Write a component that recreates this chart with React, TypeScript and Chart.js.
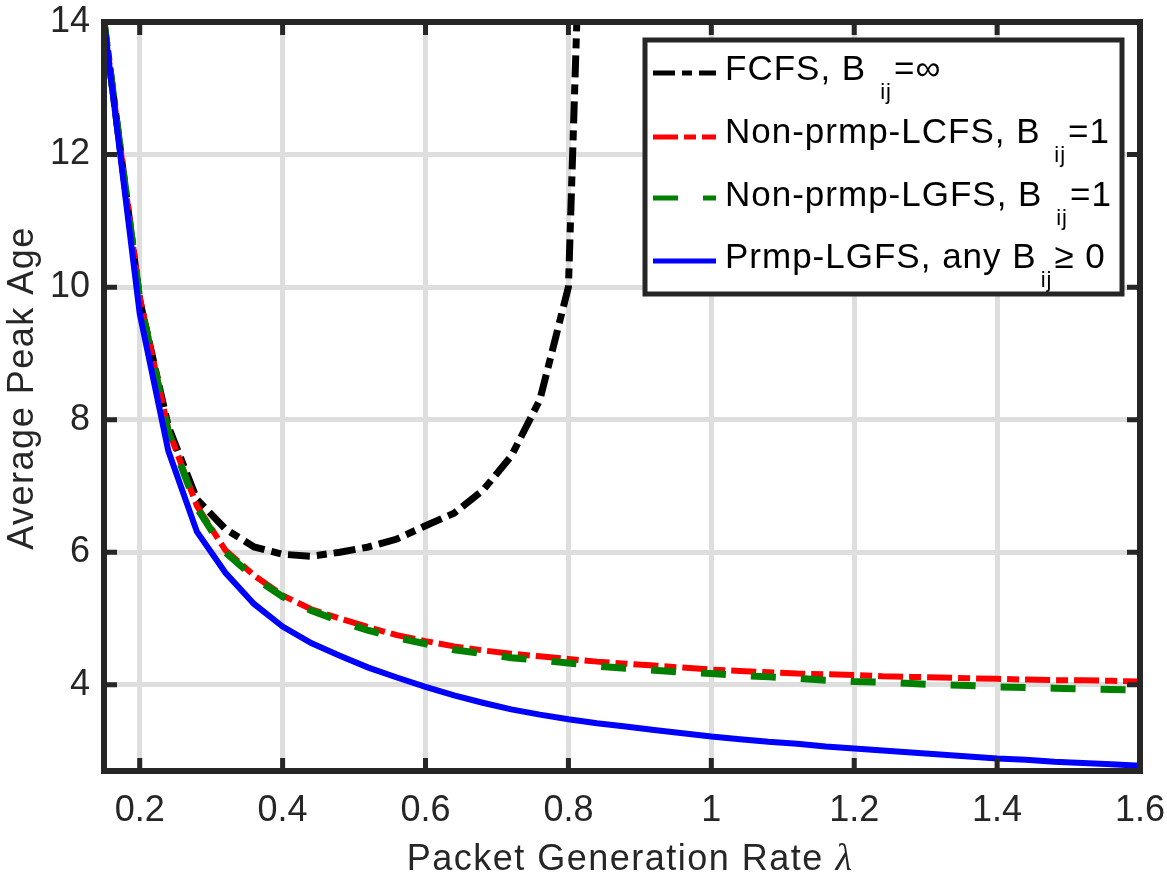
import React, { useEffect, useRef } from 'react';
import { Chart, registerables } from 'chart.js';

Chart.register(...registerables);

// ---- data ----
const lambdaValues = [
  0.15, 0.2, 0.24, 0.28, 0.32, 0.36, 0.4, 0.44, 0.48, 0.52, 0.56, 0.6, 0.64, 0.68, 0.72, 0.76, 0.8, 0.84,
  0.88, 0.92, 0.96, 1.0, 1.04, 1.08, 1.12, 1.16, 1.2, 1.24, 1.28, 1.32, 1.36, 1.4, 1.44, 1.48, 1.52, 1.56, 1.6,
];
const fcfsAge = [
  14.0, 9.8, 7.9, 6.8, 6.35, 6.08, 5.97, 5.94, 6.0, 6.08, 6.2, 6.4, 6.59, 6.93, 7.45, 8.3, 10.0, 23.6,
];
const lcfsAge = [
  14.0, 9.85, 7.85, 6.7, 6.03, 5.65, 5.35, 5.14, 5.0, 4.87, 4.75, 4.66, 4.58, 4.52, 4.47, 4.43, 4.39, 4.35,
  4.32, 4.29, 4.26, 4.23, 4.21, 4.19, 4.17, 4.16, 4.15, 4.13, 4.12, 4.11, 4.1, 4.09, 4.08, 4.07, 4.07, 4.06, 4.05,
];
const lgfsAge = [
  14.0, 9.82, 7.82, 6.67, 6.0, 5.62, 5.33, 5.12, 4.96, 4.82, 4.71, 4.62, 4.53, 4.47, 4.41, 4.37, 4.33, 4.28,
  4.25, 4.22, 4.19, 4.17, 4.14, 4.12, 4.1, 4.07, 4.05, 4.04, 4.02, 4.0, 3.99, 3.97, 3.96, 3.95, 3.94, 3.93, 3.92,
];
const prmpAge = [
  14.0, 9.6, 7.53, 6.31, 5.69, 5.22, 4.88, 4.63, 4.44, 4.26, 4.11, 3.97, 3.84, 3.73, 3.63, 3.55, 3.48, 3.42,
  3.37, 3.32, 3.27, 3.22, 3.18, 3.14, 3.11, 3.07, 3.04, 3.01, 2.98, 2.95, 2.92, 2.89, 2.87, 2.84, 2.82, 2.8, 2.78,
];
const xTickValues = [0.2, 0.4, 0.6, 0.8, 1.0, 1.2, 1.4, 1.6];
const xTickLabels = ['0.2', '0.4', '0.6', '0.8', '1', '1.2', '1.4', '1.6'];
const yTickValues = [4, 6, 8, 10, 12, 14];
const yTickLabels = ['4', '6', '8', '10', '12', '14'];
// legend labels: [main text, subscript, trailing text]
const legendLabels = [
  ['FCFS, B', 'ij', '=\u221E'],
  ['Non-prmp-LCFS, B ', 'ij', '=1'],
  ['Non-prmp-LGFS, B ', 'ij', '=1'],
  ['Prmp-LGFS, any B', 'ij', '\u2265 0'],
];
const xTitle = 'Packet Generation Rate ';
const xTitleSymbol = '\u03BB';
const yTitle = 'Average Peak Age';

const FONT = '"Liberation Sans", Arial, Helvetica, sans-serif';
const AXIS_COLOR = '#262626';

const seriesStyles = [
  { color: '#000000', width: 7, dash: [22, 7, 10, 7] },
  { color: '#ff0000', width: 6, dash: [25, 6, 12, 6] },
  { color: '#008000', width: 7, dash: [25, 25] },
  { color: '#0000ff', width: 6, dash: [] as number[] },
];

function toPoints(values: number[]) {
  return values.map((y, i) => ({ x: lambdaValues[i], y }));
}

const boxPlugin = {
  id: 'matlabBox',
  afterDatasetsDraw(chart: any) {
    const { ctx, chartArea } = chart;
    const { left, right, top, bottom } = chartArea;
    const xs = chart.scales.x;
    const ys = chart.scales.y;
    ctx.save();
    ctx.strokeStyle = AXIS_COLOR;
    ctx.lineWidth = 5;
    ctx.setLineDash([]);
    const tl = 13;
    ctx.beginPath();
    xTickValues.forEach((v) => {
      const px = xs.getPixelForValue(v);
      ctx.moveTo(px, bottom);
      ctx.lineTo(px, bottom - tl);
      ctx.moveTo(px, top);
      ctx.lineTo(px, top + tl);
    });
    yTickValues.forEach((v) => {
      const py = ys.getPixelForValue(v);
      ctx.moveTo(left, py);
      ctx.lineTo(left + tl, py);
      ctx.moveTo(right, py);
      ctx.lineTo(right - tl, py);
    });
    ctx.stroke();
    ctx.lineWidth = 6;
    ctx.strokeRect(left, top, right - left, bottom - top);
    ctx.restore();
  },
};

const titlesPlugin = {
  id: 'axisTitles',
  afterDraw(chart: any) {
    const { ctx, chartArea } = chart;
    ctx.save();
    ctx.fillStyle = AXIS_COLOR;
    (ctx as any).letterSpacing = '1.5px';
    // x title
    ctx.font = `36px ${FONT}`;
    const w1 = ctx.measureText(xTitle).width;
    ctx.font = `italic 38px "Liberation Serif", "DejaVu Serif", serif`;
    const w2 = ctx.measureText(xTitleSymbol).width;
    const cx = (chartArea.left + chartArea.right) / 2 + 8;
    const x0 = cx - (w1 + w2) / 2;
    ctx.textBaseline = 'alphabetic';
    ctx.textAlign = 'left';
    ctx.font = `36px ${FONT}`;
    ctx.fillText(xTitle, x0, 870);
    ctx.font = `italic 38px "Liberation Serif", "DejaVu Serif", serif`;
    ctx.fillText(xTitleSymbol, x0 + w1, 870);
    // y title
    ctx.font = `36px ${FONT}`;
    ctx.translate(33, 388);
    ctx.rotate(-Math.PI / 2);
    ctx.textAlign = 'center';
    ctx.fillText(yTitle, 0, 0);
    ctx.restore();
  },
};

const legendPlugin = {
  id: 'customLegend',
  afterDraw(chart: any) {
    const { ctx } = chart;
    const bx = 645;
    const by = 40;
    const bw = 477;
    const bh = 254;
    ctx.save();
    ctx.fillStyle = '#ffffff';
    ctx.fillRect(bx, by, bw, bh);
    ctx.strokeStyle = AXIS_COLOR;
    ctx.lineWidth = 5;
    ctx.setLineDash([]);
    ctx.strokeRect(bx, by, bw, bh);
    const lineY = [73, 137, 198, 261];
    const baseY = [80, 143, 206, 268];
    const subGap = [14, 3, 3, 4];
    legendLabels.forEach((parts, i) => {
      const st = seriesStyles[i];
      ctx.beginPath();
      ctx.strokeStyle = st.color;
      ctx.lineWidth = 5;
      ctx.lineCap = 'butt';
      ctx.setLineDash(st.dash);
      ctx.moveTo(653, lineY[i]);
      ctx.lineTo(716, lineY[i]);
      ctx.stroke();
      ctx.setLineDash([]);
      ctx.fillStyle = '#000000';
      ctx.textAlign = 'left';
      ctx.textBaseline = 'alphabetic';
      (ctx as any).letterSpacing = '1px';
      let x = 725;
      ctx.font = `35px ${FONT}`;
      ctx.fillText(parts[0], x, baseY[i]);
      x += ctx.measureText(parts[0]).width + subGap[i];
      ctx.font = `22px ${FONT}`;
      ctx.fillText(parts[1], x, baseY[i] + 19);
      x += ctx.measureText(parts[1]).width + 2;
      ctx.font = `35px ${FONT}`;
      ctx.fillText(parts[2], x, baseY[i]);
    });
    ctx.restore();
  },
};

export default function App() {
  const canvasRef = useRef<HTMLCanvasElement>(null);

  useEffect(() => {
    if (!canvasRef.current) return;
    const seriesData = [fcfsAge, lcfsAge, lgfsAge, prmpAge];
    const datasets = seriesData.map((vals, i) => ({
      label: legendLabels[i].join(''),
      data: toPoints(vals),
      borderColor: seriesStyles[i].color,
      backgroundColor: seriesStyles[i].color,
      borderWidth: seriesStyles[i].width,
      borderDash: seriesStyles[i].dash,
      borderCapStyle: 'butt' as const,
      borderJoinStyle: 'miter' as const,
      pointRadius: 0,
      pointHoverRadius: 0,
      tension: 0,
      fill: false,
      spanGaps: false,
      order: 3 - i,
    }));

    const chart = new Chart(canvasRef.current, {
      type: 'line',
      data: { datasets },
      options: {
        responsive: false,
        animation: false,
        devicePixelRatio: 1,
        events: [],
        layout: { padding: { top: 22, right: 27, left: 0, bottom: 0 } },
        plugins: {
          legend: { display: false },
          tooltip: { enabled: false },
          title: { display: false },
        },
        scales: {
          x: {
            type: 'linear',
            min: 0.15,
            max: 1.6,
            afterBuildTicks: (s: any) => {
              s.ticks = xTickValues.map((v) => ({ value: v }));
            },
            afterFit: (s: any) => {
              s.height = 104;
              s.paddingLeft = 0;
              s.paddingRight = 0;
              s.paddingTop = 0;
              s.paddingBottom = 0;
            },
            grid: { color: '#dedede', lineWidth: 5, drawTicks: false },
            border: { display: false },
            ticks: {
              color: AXIS_COLOR,
              font: { family: FONT, size: 36 },
              padding: 18,
              maxRotation: 0,
              autoSkip: false,
              callback: (_v: any, i: number) => xTickLabels[i],
            },
          },
          y: {
            type: 'linear',
            min: 2.7,
            max: 14,
            afterBuildTicks: (s: any) => {
              s.ticks = yTickValues.map((v) => ({ value: v }));
            },
            afterFit: (s: any) => {
              s.width = 104;
              s.paddingLeft = 0;
              s.paddingRight = 0;
              s.paddingTop = 0;
              s.paddingBottom = 0;
            },
            grid: { color: '#dedede', lineWidth: 5, drawTicks: false },
            border: { display: false },
            ticks: {
              color: AXIS_COLOR,
              font: { family: FONT, size: 36 },
              padding: 14,
              autoSkip: false,
              callback: (_v: any, i: number) => yTickLabels[i],
            },
          },
        },
      },
      plugins: [boxPlugin, titlesPlugin, legendPlugin],
    });
    return () => chart.destroy();
  }, []);

  return (
    <div style={{ position: 'fixed', left: 0, top: 0, width: 1167, height: 875, background: '#ffffff' }}>
      <canvas ref={canvasRef} width={1167} height={875} style={{ display: 'block', width: 1167, height: 875 }} />
    </div>
  );
}
